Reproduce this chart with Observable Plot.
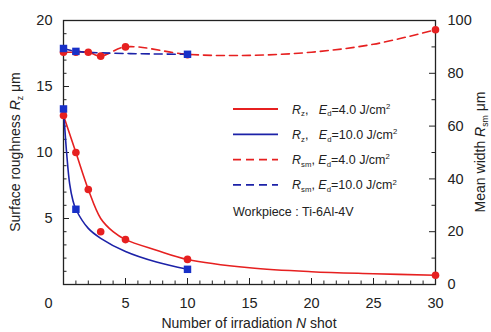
<!DOCTYPE html>
<html>
<head>
<meta charset="utf-8">
<script src="https://cdn.jsdelivr.net/npm/d3@7"></script>
<script src="https://cdn.jsdelivr.net/npm/@observablehq/plot@0.6"></script>
<style>
  html, body { margin: 0; padding: 0; background: #fff; }
  #chart svg { display: block; }
</style>
</head>
<body>
<div id="chart"></div>
<script>
// Measured points
const shotsRed = [0, 1, 2, 3, 5, 10, 30];
const rzRed    = [12.8, 10.0, 7.2, 4.0, 3.4, 1.9, 0.7];
const rsmRed   = [88.0, 88.0, 88.0, 86.5, 90.0, 87.0, 96.5];
const shotsBlue = [0, 1, 10];
const rzBlue    = [13.3, 5.7, 1.15];
const rsmBlue   = [89.4, 88.3, 87.2];

// Fitted curves
const fitRedN  = [0, 1, 2, 3, 4, 5, 7.5, 10, 15, 20, 25, 30];
const fitRedRz = [12.8, 10.0, 7.2, 5.0, 4.0, 3.4, 2.6, 1.9, 1.27, 0.97, 0.82, 0.7];
const fitBlueN  = [0, 0.25, 0.5, 0.75, 1, 2, 3, 5, 7.5, 10];
const fitBlueRz = [13.3, 10.0, 7.6, 6.4, 5.7, 4.25, 3.5, 2.5, 1.7, 1.15];
const fitRedRsmN = [0, 1, 2, 3, 5, 10, 15, 20, 25, 30];
const fitRedRsm  = [88.0, 88.0, 88.0, 86.5, 90.0, 87.2, 86.8, 88.0, 91.0, 96.5];
const fitBlueRsmN = [0, 1, 10];
const fitBlueRsm  = [89.4, 88.3, 87.2];

const xTicks = [5, 10, 15, 20, 25, 30];
const yLeftTicks = [5, 10, 15, 20];
const yRightTicks = [0, 20, 40, 60, 80, 100];

const RED = "#e62020";
const BLUE = "#1c22a8";
const BLUEM = "#1830c8";
const scaleR = 5; // right axis value / left axis value

const red = shotsRed.map((n, i) => ({n, rz: rzRed[i], rsm: rsmRed[i]}));
const blue = shotsBlue.map((n, i) => ({n, rz: rzBlue[i], rsm: rsmBlue[i]}));
const redFit = fitRedN.map((n, i) => ({n, v: fitRedRz[i]}));
const blueFit = fitBlueN.map((n, i) => ({n, v: fitBlueRz[i]}));
const redRsmFit = fitRedRsmN.map((n, i) => ({n, v: fitRedRsm[i] / scaleR}));
const blueRsmFit = fitBlueRsmN.map((n, i) => ({n, v: fitBlueRsm[i] / scaleR}));

const W = 491, H = 332;
const mL = 63, mR = 56, mT = 20, mB = 48;
const pxPerY = (H - mT - mB) / 20;
const pxPerX = (W - mL - mR) / 30;

const xMinor = d3.range(1, 30).filter(d => d % 5 !== 0);
const xMajor = [5, 10, 15, 20, 25];
const yMinor = d3.range(1, 20).filter(d => d % 5 !== 0);
const yMajor = [5, 10, 15];
const rMinor = [10, 30, 50, 70, 90].map(d => d / scaleR);
const rMajor = [20, 40, 60, 80].map(d => d / scaleR);

const majorLen = 6, minorLen = 3.5;

const plot = Plot.plot({
  width: W, height: H,
  marginLeft: mL, marginRight: mR, marginTop: mT, marginBottom: mB,
  style: {fontFamily: "'Liberation Sans', Arial, sans-serif", background: "#fff"},
  x: {domain: [0, 30]},
  y: {domain: [0, 20]},
  marks: [
    // inward ticks
    Plot.ruleX(xMajor, {x: d => d, y1: 0, y2: majorLen / pxPerY, stroke: "#222", strokeWidth: 1}),
    Plot.ruleX(xMinor, {x: d => d, y1: 0, y2: minorLen / pxPerY, stroke: "#222", strokeWidth: 1}),
    Plot.ruleY(yMajor, {y: d => d, x1: 0, x2: majorLen / pxPerX, stroke: "#222", strokeWidth: 1}),
    Plot.ruleY(yMinor, {y: d => d, x1: 0, x2: minorLen / pxPerX, stroke: "#222", strokeWidth: 1}),
    Plot.ruleY(rMajor, {y: d => d, x1: 30 - majorLen / pxPerX, x2: 30, stroke: "#222", strokeWidth: 1}),
    Plot.ruleY(rMinor, {y: d => d, x1: 30 - minorLen / pxPerX, x2: 30, stroke: "#222", strokeWidth: 1}),
    Plot.frame({stroke: "#222", strokeWidth: 1.3}),
    Plot.axisX({ticks: xTicks, tickSize: 0, tickPadding: 13, fontSize: 14.5, label: null, fill: "#222"}),
    Plot.text([0], {x: d => d, y: 0, text: d => "0", dx: -15, dy: 19, fontSize: 14.5, fill: "#222"}),
    Plot.axisY({anchor: "left", ticks: yLeftTicks, tickSize: 0, tickPadding: 11, fontSize: 14.5, label: null, fill: "#222"}),
    Plot.axisY({anchor: "right", ticks: yRightTicks.map(d => d / scaleR), tickFormat: d => String(Math.round(d * scaleR)), tickSize: 0, tickPadding: 12, fontSize: 14.5, label: null, fill: "#222"}),
    // Rsm lines (dashed)
    Plot.line(redRsmFit, {x: "n", y: "v", stroke: RED, strokeWidth: 1.6, strokeDasharray: "8,5", curve: "catmull-rom"}),
    Plot.line(blueRsmFit, {x: "n", y: "v", stroke: BLUE, strokeWidth: 1.6, strokeDasharray: "8,5", curve: "catmull-rom"}),
    // Rz fitted lines
    Plot.line(redFit, {x: "n", y: "v", stroke: RED, strokeWidth: 1.6, curve: "catmull-rom"}),
    Plot.line(blueFit, {x: "n", y: "v", stroke: BLUE, strokeWidth: 1.6, curve: "catmull-rom"}),
    // markers
    Plot.dot(red, {x: "n", y: d => d.rsm / scaleR, r: 3.8, fill: RED, stroke: "none"}),
    Plot.dot(red, {x: "n", y: "rz", r: 3.8, fill: RED, stroke: "none"}),
    Plot.dot(blue, {x: "n", y: d => d.rsm / scaleR, r: 4.2, symbol: "square", fill: BLUEM, stroke: "none"}),
    Plot.dot(blue, {x: "n", y: "rz", r: 4.2, symbol: "square", fill: BLUEM, stroke: "none"})
  ]
});

document.getElementById("chart").appendChild(plot);

const svg = d3.select(plot);
const font = "'Liberation Sans', Arial, sans-serif";

function rich(g, x, y, parts, size, opts = {}) {
  const t = g.append("text")
    .attr("x", x).attr("y", y)
    .attr("font-family", font)
    .attr("font-size", size)
    .attr("fill", "#222")
    .attr("text-anchor", opts.anchor || "start");
  if (opts.transform) t.attr("transform", opts.transform);
  for (const p of parts) {
    const s = t.append("tspan").text(p.t);
    if (p.i) s.attr("font-style", "italic");
    if (p.sub) s.attr("font-size", size * 0.62).attr("dy", size * 0.22);
    if (p.sup) s.attr("font-size", size * 0.62).attr("dy", -size * 0.38);
    if (p.back) s.attr("dy", p.back);
  }
  return t;
}

// axis titles
const g = svg.append("g");
const TS = 14;
rich(g, 0, 0, [
  {t: "Surface roughness "}, {t: "R", i: true}, {t: "z", sub: true}, {t: " μm", back: -TS * 0.22}
], TS, {anchor: "middle", transform: `translate(20,${mT + (H - mT - mB) / 2}) rotate(-90)`});
rich(g, 0, 0, [
  {t: "Mean width "}, {t: "R", i: true}, {t: "sm", sub: true}, {t: " μm", back: -TS * 0.22}
], TS, {anchor: "middle", transform: `translate(485,${mT + (H - mT - mB) / 2}) rotate(-90)`});
rich(g, 249, 328, [
  {t: "Number of irradiation "}, {t: "N", i: true}, {t: " shot"}
], TS, {anchor: "middle"});

// legend
const legend = [
  {sym: "z", ed: "4.0", color: RED, dash: null},
  {sym: "z", ed: "10.0", color: BLUE, dash: null},
  {sym: "sm", ed: "4.0", color: RED, dash: "8,5"},
  {sym: "sm", ed: "10.0", color: BLUE, dash: "8,5"}
];
const LS = 12.5;
const lg = svg.append("g");
legend.forEach((d, i) => {
  const y = 109 + i * 25.3;
  const l = lg.append("line").attr("x1", 233).attr("x2", 278).attr("y1", y).attr("y2", y)
    .attr("stroke", d.color).attr("stroke-width", 1.8);
  if (d.dash) l.attr("stroke-dasharray", d.dash);
  const gap = d.sym === "z" ? "\u00a0\u00a0\u00a0" : "\u00a0";
  rich(lg, 292, y + 4.5, [
    {t: "R", i: true}, {t: d.sym, sub: true}, {t: "," + gap, back: -LS * 0.22},
    {t: "E", i: true}, {t: "d", sub: true}, {t: "=" + d.ed + " J/cm", back: -LS * 0.22},
    {t: "2", sup: true}
  ], LS);
});
rich(lg, 233, 216, [{t: "Workpiece : Ti-6Al-4V"}], LS);
</script>
</body>
</html>
